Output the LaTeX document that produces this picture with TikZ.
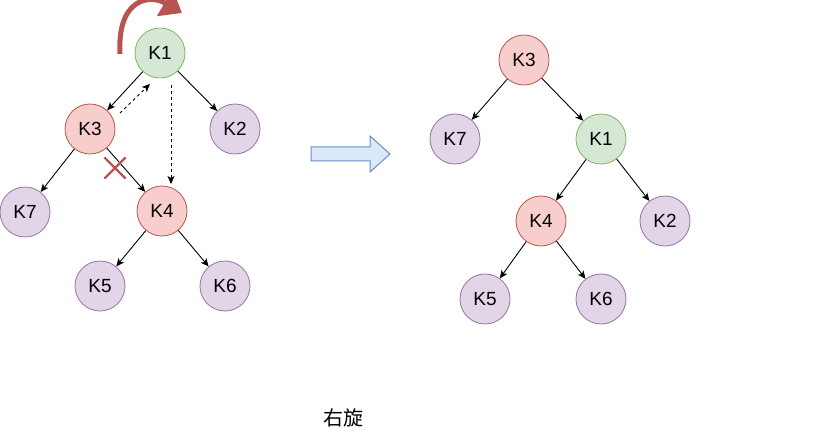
\documentclass[tikz,border=0pt]{standalone}
\usepackage{fontspec}
\setmainfont{Liberation Sans}
\newfontfamily\cjkfont{Noto Sans CJK SC}
\usetikzlibrary{arrows.meta, shapes.misc}

\definecolor{greenfill}{HTML}{D5E8D4}
\definecolor{greenline}{HTML}{82B366}
\definecolor{redfill}{HTML}{F8CECC}
\definecolor{redline}{HTML}{B85450}
\definecolor{purplefill}{HTML}{E1D5E7}
\definecolor{purpleline}{HTML}{9673A6}
\definecolor{bluefill}{HTML}{DAE8FC}
\definecolor{blueline}{HTML}{6C8EBF}

\begin{document}
\begin{tikzpicture}[
    x=1pt, y=-1pt,
    key/.style={draw, circle, minimum size=50pt, inner sep=0pt, line width=0.8pt, font=\fontsize{19}{21}\selectfont},
    pivot/.style={key, fill=greenfill, draw=greenline},
    moved/.style={key, fill=redfill, draw=redline},
    leaf/.style={key, fill=purplefill, draw=purpleline},
    edge/.style={-{Stealth[length=8pt,width=7pt,inset=2pt]}, line width=0.9pt},
    hint/.style={edge, dash pattern=on 3pt off 3pt}
]
\useasboundingbox (0,0) rectangle (834,446);

% before the rotation
\node (k1) [pivot] at (160,53) {K1};
\node (k3) [moved] at (90,129) {K3};
\node (k2) [leaf] at (235,129) {K2};
\node (k7) [leaf] at (25,212) {K7};
\node (k4) [moved] at (162,211) {K4};
\node (k5) [leaf] at (100,286) {K5};
\node (k6) [leaf] at (225,286) {K6};

\draw[edge] (k1) -- (k3);
\draw[edge] (k1) -- (k2);
\draw[edge] (k3) -- (k7);
\draw[edge] (k3) -- (k4);
\draw[edge] (k4) -- (k5);
\draw[edge] (k4) -- (k6);

\coordinate (up1) at (120,113);
\coordinate (up2) at (150,84);
\coordinate (down1) at (171,85);
\coordinate (down2) at (171,184);
\draw[hint] (up1) -- (up2);
\draw[hint] (down1) -- (down2);

\node (cut) [cross out, draw=redline, line width=2.2pt, minimum size=19pt, inner sep=0pt] at (115,168) {};

\coordinate (turn1) at (120,54);
\coordinate (turn2) at (182,13);
\draw[redline, line width=5pt, -{Triangle[length=20pt,width=30pt]}]
    (turn1) .. controls (117,-2) and (150,-6) .. (turn2);

% the block arrow
\draw[fill=bluefill, draw=blueline, line width=1pt]
    (311,147) -- (370,147) -- (370,136) -- (390,154) -- (370,172) -- (370,161) -- (311,161) -- cycle;

% after the rotation
\node (r3) [moved] at (524,60) {K3};
\node (r7) [leaf] at (455,139) {K7};
\node (r1) [pivot] at (601,139) {K1};
\node (r4) [moved] at (541,221) {K4};
\node (r2) [leaf] at (665,221) {K2};
\node (r5) [leaf] at (485,299) {K5};
\node (r6) [leaf] at (601,299) {K6};

\draw[edge] (r3) -- (r7);
\draw[edge] (r3) -- (r1);
\draw[edge] (r1) -- (r4);
\draw[edge] (r1) -- (r2);
\draw[edge] (r4) -- (r5);
\draw[edge] (r4) -- (r6);

\node (caption) at (343,418) {\cjkfont\fontsize{20}{22}\selectfont 右旋};
\end{tikzpicture}
\end{document}
